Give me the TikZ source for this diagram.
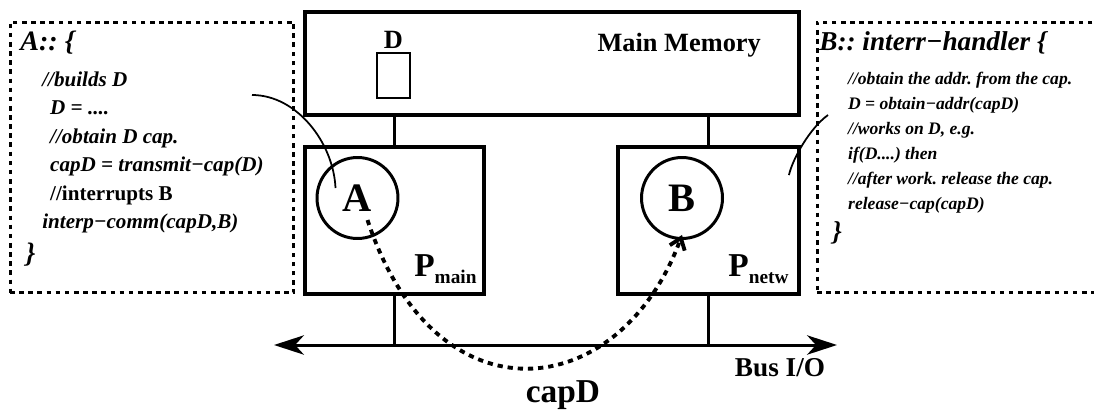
\documentclass[tikz,border=0pt]{standalone}
\usepackage{fontspec}
\setmainfont{Liberation Serif}
\usetikzlibrary{arrows.meta,positioning}
\frenchspacing

\begin{document}
\begin{tikzpicture}[
  x=0.02cm, y=-0.02cm,
  font=\bfseries,
  unit/.style={rectangle,draw,line width=2.2pt,inner sep=0pt},
  proc/.style={circle,draw,line width=1.7pt,minimum size=1.62cm,inner sep=0pt,
    font=\fontsize{23}{23}\selectfont\bfseries},
  codebox/.style={rectangle,draw,line width=1.7pt,dash pattern=on 2.6pt off 2.6pt,inner sep=0pt},
  code/.style={align=left,inner sep=0pt,anchor=north west},
  plabel/.style={inner sep=0pt,anchor=south east,font=\fontsize{19}{19}\selectfont\bfseries},
  link/.style={line width=1.4pt},
  pointer/.style={line width=1pt},
  bus/.style={{Stealth[length=17pt,width=11pt,inset=5pt]}-{Stealth[length=17pt,width=11pt,inset=5pt]},line width=1.7pt},
  capflow/.style={-{Straight Barb[length=6pt,width=9pt]},line width=2.2pt,dash pattern=on 3pt off 2.8pt}
]
  \useasboundingbox (0,0) rectangle (1094,416);

  % memory and processors
  \node[unit,minimum width=9.88cm,minimum height=2.06cm] (mem) at (552,63.5) {};
  \node[anchor=east,font=\fontsize{15}{15}\selectfont\bfseries] (memlabel) at (767,45) {Main Memory};
  \node[rectangle,draw,line width=1.2pt,minimum width=0.66cm,minimum height=0.9cm] (dbox) at (393.5,75.5) {};
  \node[above=1pt of dbox,inner sep=1pt,font=\fontsize{15}{15}\selectfont\bfseries] (dlabel) {D};
  \node[unit,minimum width=3.58cm,minimum height=2.94cm] (pmain) at (394.5,220.5) {};
  \node[unit,minimum width=3.62cm,minimum height=2.94cm] (pnetw) at (708.5,220.5) {};
  \node[proc] (A) at (357.5,198) {A};
  \node[proc] (B) at (682,198) {B};
  \node[plabel] (pmainlabel) at ([shift={(-9,-12)}]pmain.south east)
    {P\raisebox{-4pt}{\fontsize{11}{11}\selectfont main}};
  \node[plabel] (pnetwlabel) at ([shift={(-12,-12)}]pnetw.south east)
    {P\raisebox{-4pt}{\fontsize{11}{11}\selectfont netw}};

  % bus
  \coordinate (busL) at (274,345);
  \coordinate (busR) at (837,345);
  \draw[bus] (busL) -- (busR);
  \node[font=\fontsize{15.5}{15.5}\selectfont\bfseries] (buslabel) at (780,368) {Bus I/O};
  \node[font=\fontsize{19}{19}\selectfont\bfseries] (caplabel) at (563,395) {capD};

  \draw[link] (pmain.north) -- (pmain.north |- mem.south);
  \draw[link] (pnetw.north) -- (pnetw.north |- mem.south);
  \draw[link] (pmain.south) -- (pmain.south |- busL);
  \draw[link] (pnetw.south) -- (pnetw.south |- busL);

  % code of A and B
  \node[codebox,minimum width=5.68cm,minimum height=5.42cm] (boxA) at (152,157.5) {};
  \node[codebox,minimum width=5.8cm,minimum height=5.42cm] (boxB) at (962,157.5) {};
  \node[code,font=\fontsize{12}{16.2}\selectfont\bfseries\itshape] (codeA) at (20,31) {%
    {\fontsize{16}{16}\selectfont A:: \{}\\[4pt]
    \hspace*{12.5pt}//builds D\\
    \hspace*{17pt}D = ....\\
    \hspace*{17pt}//obtain D cap.\\
    \hspace*{17pt}capD = transmit−cap(D)\\
    \hspace*{17pt}{\upshape //interrupts B}\\
    \hspace*{12.5pt}interp−comm(capD,B)\\[3pt]
    \hspace*{3pt}{\fontsize{16}{16}\selectfont\}}};
  \node[code,font=\fontsize{10}{14.3}\selectfont\bfseries\itshape] (codeB) at (819,31) {%
    {\fontsize{15.5}{15.5}\selectfont B:: interr−handler \{}\\[5pt]
    \hspace*{16.4pt}//obtain the addr. from the cap.\\
    \hspace*{16.4pt}D = obtain−addr(capD)\\
    \hspace*{16.4pt}//works on D, e.g.\\
    \hspace*{16.4pt}if(D....) then\\
    \hspace*{16.4pt}//after work. release the cap.\\
    \hspace*{16.4pt}release−cap(capD)\\[3pt]
    \hspace*{7.4pt}{\fontsize{15.5}{15.5}\selectfont\}}};

  \coordinate (ptrA) at (252,95);
  \coordinate (ptrB) at (828,115);
  \draw[pointer] (ptrA) .. controls +(45,0) and +(-2,-45) .. ([shift={(-22,-10)}]A.center);
  \draw[pointer] (ptrB) .. controls +(-18,13) and +(4,-17) .. ([shift={(-12,30)}]pnetw.north east);

  \draw[capflow] ([shift={(10,22)}]A.center) .. controls +(68,206) and +(-62,169) .. ([shift={(0,-5)}]B.south);
\end{tikzpicture}
\end{document}
